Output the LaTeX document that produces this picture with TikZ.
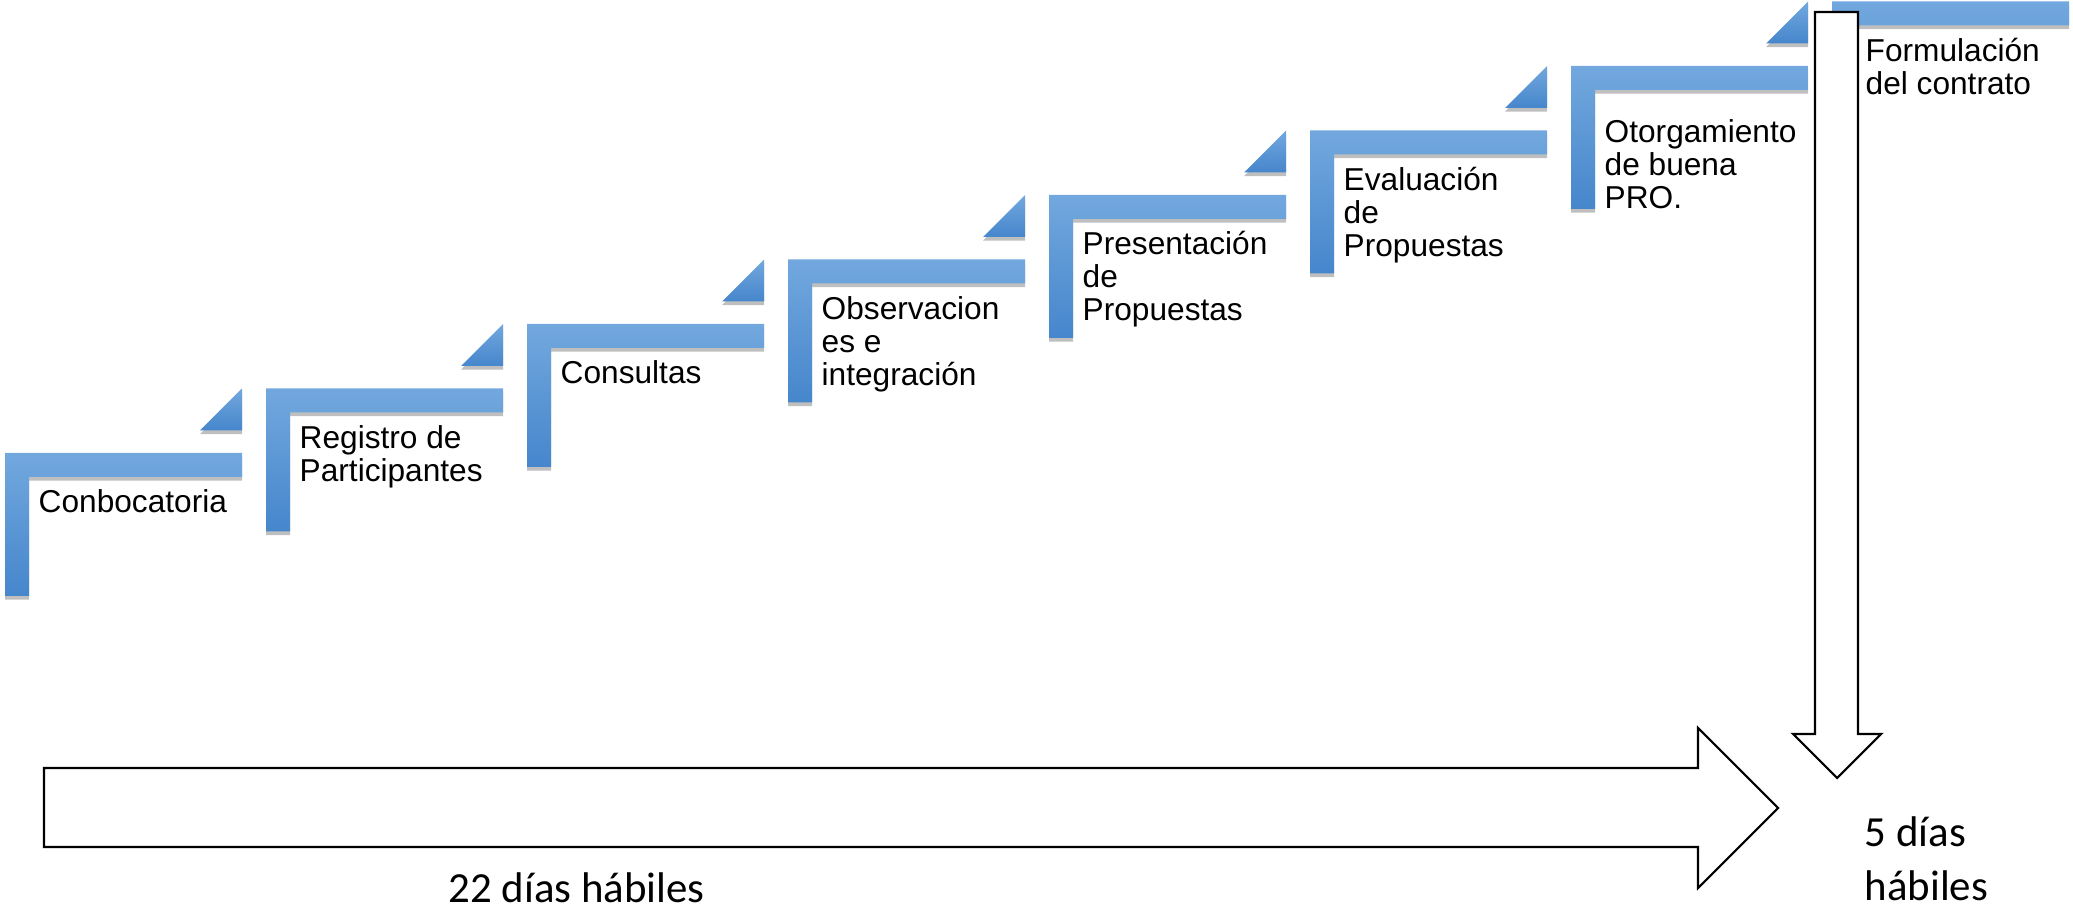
\documentclass[tikz,border=0pt]{standalone}
\usepackage{fontspec}
\setmainfont{Liberation Sans}
\newfontfamily\calib{Carlito}
\usetikzlibrary{shadows}
\definecolor{stepTop}{HTML}{72A8DE}
\definecolor{stepBot}{HTML}{4686CC}
\tikzset{
 stepbar/.style={top color=stepTop, bottom color=stepBot,
   drop shadow={fill=black, opacity=.25, shadow xshift=0pt, shadow yshift=-1pt}},
 steptext/.style={anchor=base west, inner sep=0pt, align=left,
   font=\fontsize{9}{9.4}\selectfont},
 daytext/.style={anchor=base west, inner sep=0pt, align=left,
   font=\calib\fontsize{12.2}{15.3}\selectfont},
 blockarrow/.style={draw=black, line width=.6pt, fill=white}
}
\begin{document}
\begin{tikzpicture}[x=0.01cm,y=-0.01cm]
 \useasboundingbox (0,0) rectangle (2073,910);
 % steps (text base is the last line)
 \foreach \i/\n/\txt/\dy in {1/1/Conbocatoria/0, 2/2/{Registro de\\Participantes}/0,
   3/1/Consultas/0, 4/3/{Observacion\\es e\\integración}/0,
   5/3/{Presentación\\de\\Propuestas}/0, 6/3/{Evaluación\\de\\Propuestas}/0,
   7/3/{Otorgamiento\\de buena\\PRO.}/17, 8/2/{Formulación\\del contrato}/0}{
  \pgfmathsetmacro\L{5+261*(\i-1)}
  \pgfmathsetmacro\T{453-64.5*(\i-1)}
  \pgfmathsetmacro\B{\T+60+\dy+33*(\n-1)}
  \path[stepbar] (\L,\T) -- ++(237,0) -- ++(0,24) -- ++(-213,0)
    -- ++(0,119) -- ++(-24,0) -- cycle;
  \node[steptext] (s\i) at (\L+33,\B) {\txt};
 }
 % small corners
 \foreach \i in {1,...,7}{
  \pgfmathsetmacro\L{5+261*(\i-1)}
  \pgfmathsetmacro\T{453-64.5*(\i-1)}
  \path[stepbar] (\L+237,\T-64.5) -- ++(0,42) -- ++(-42,0) -- cycle;
 }
 %
 \draw[blockarrow] (44,768) -- (1698,768) -- (1698,728) -- (1778,808)
   -- (1698,888) -- (1698,847) -- (44,847) -- cycle;
 \draw[blockarrow] (1815,12) -- (1858,12) -- (1858,734) -- (1881,734)
   -- (1837,778) -- (1793,734) -- (1815,734) -- cycle;
 %
 \node[daytext] (d22) at (448,902) {22 días hábiles};
 \node[daytext] (d5) at (1864,900) {5 días\\hábiles};
\end{tikzpicture}
\end{document}
